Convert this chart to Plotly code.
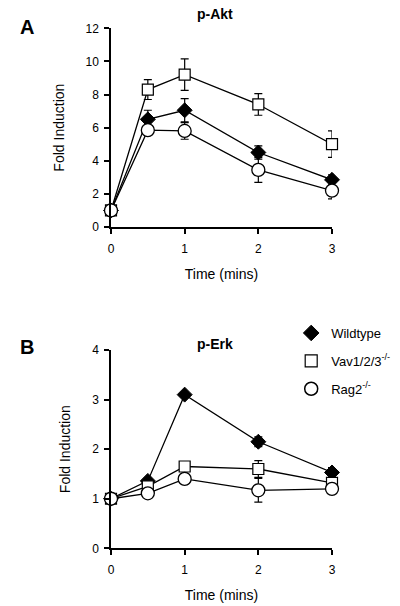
import plotly.graph_objects as go

time = [0, 0.5, 1, 2, 3]
series_names = ["Wildtype", "Vav1/2/3<sup>-/-</sup>", "Rag2<sup>-/-</sup>"]

akt_wt = [1, 6.5, 7.05, 4.5, 2.85]
akt_wt_err = [0, 0.55, 0.7, 0.4, 0.3]
akt_vav = [1, 8.3, 9.2, 7.4, 5.0]
akt_vav_err = [0, 0.6, 0.95, 0.65, 0.8]
akt_rag = [1, 5.85, 5.8, 3.45, 2.2]
akt_rag_err = [0, 0.25, 0.5, 0.75, 0.5]

erk_wt = [1, 1.36, 3.1, 2.15, 1.53]
erk_wt_err = [0, 0.05, 0.05, 0.1, 0.1]
erk_vav = [1, 1.25, 1.65, 1.6, 1.32]
erk_vav_err = [0, 0.05, 0.05, 0.17, 0.1]
erk_rag = [1, 1.11, 1.4, 1.17, 1.2]
erk_rag_err = [0, 0.05, 0.1, 0.24, 0.07]

markers = [
    dict(symbol="diamond", size=11.5, color="black", line=dict(color="black", width=1)),
    dict(symbol="square", size=11, color="white", line=dict(color="black", width=1.2)),
    dict(symbol="circle", size=13, color="white", line=dict(color="black", width=1.3)),
]
legend_markers = [
    dict(symbol="diamond", size=12, color="black", line=dict(color="black", width=1)),
    dict(symbol="square", size=12, color="white", line=dict(color="black", width=1.2)),
    dict(symbol="circle", size=13, color="white", line=dict(color="black", width=1.5)),
]

fig = go.Figure()

panels = [
    ("x", "y", [akt_wt, akt_vav, akt_rag], [akt_wt_err, akt_vav_err, akt_rag_err]),
    ("x2", "y2", [erk_wt, erk_vav, erk_rag], [erk_wt_err, erk_vav_err, erk_rag_err]),
]
for xax, yax, vals, errs in panels:
    for i in range(3):
        fig.add_trace(go.Scatter(
            x=time, y=vals[i], mode="lines+markers", name=series_names[i],
            xaxis=xax, yaxis=yax,
            line=dict(color="black", width=1.3),
            marker=markers[i],
            error_y=dict(type="data", array=errs[i], visible=True, color="black", thickness=1.2, width=4),
            cliponaxis=False, showlegend=False,
        ))

# legend entries (markers only)
for i in range(3):
    fig.add_trace(go.Scatter(
        x=[None], y=[None], mode="markers", name=series_names[i], marker=legend_markers[i],
        xaxis="x2", yaxis="y2", showlegend=True, legendgroup=f"g{i}",
    ))

font = dict(family="Liberation Sans, Arial, sans-serif", size=12, color="black")
axis_common = dict(showline=True, linecolor="black", linewidth=1.5, ticks="outside",
                   tickcolor="black", ticklen=5, tickwidth=1.5, showgrid=False, zeroline=False,
                   tickfont=dict(size=12), automargin=False)

fig.update_layout(
    width=400, height=606, margin=dict(l=0, r=0, t=0, b=0, autoexpand=False),
    paper_bgcolor="white", plot_bgcolor="white", font=font,
    xaxis=dict(axis_common, domain=[0.2775, 0.83], range=[0, 3], tickvals=[0, 1, 2, 3],
               anchor="y", ticklabelstandoff=5, title=dict(text="Time (mins)", standoff=14)),
    yaxis=dict(axis_common, domain=[0.6254, 0.9533], range=[0, 12], tickvals=list(range(0, 13, 2)),
               anchor="x", ticklabelstandoff=3, title=dict(text="Fold Induction", standoff=18)),
    xaxis2=dict(axis_common, domain=[0.2775, 0.83], range=[0, 3], tickvals=[0, 1, 2, 3],
                anchor="y2", ticklabelstandoff=5, title=dict(text="Time (mins)", standoff=14)),
    yaxis2=dict(axis_common, domain=[0.0952, 0.4224], range=[0, 4], tickvals=[0, 1, 2, 3, 4],
                anchor="x2", ticklabelstandoff=3, title=dict(text="Fold Induction", standoff=18)),
    legend=dict(x=0.728, y=1 - 318 / 606, xanchor="left", yanchor="top",
                bgcolor="rgba(0,0,0,0)", tracegroupgap=8, font=dict(size=13)),
    annotations=[
        dict(text="<b>p-Akt</b>", x=0.5375, y=1 - 14 / 606, xref="paper", yref="paper",
             yanchor="middle", showarrow=False, font=dict(size=14)),
        dict(text="<b>p-Erk</b>", x=0.5375, y=1 - 344 / 606, xref="paper", yref="paper",
             yanchor="middle", showarrow=False, font=dict(size=14)),
        dict(text="<b>A</b>", x=18 / 400, y=1 - 27 / 606, xref="paper", yref="paper",
             yanchor="middle", showarrow=False, font=dict(size=20)),
        dict(text="<b>B</b>", x=18 / 400, y=1 - 347 / 606, xref="paper", yref="paper",
             yanchor="middle", showarrow=False, font=dict(size=20)),
    ],
)

fig.write_html("out.html", config={"displayModeBar": False},
               post_script="document.body.style.margin='0';")
